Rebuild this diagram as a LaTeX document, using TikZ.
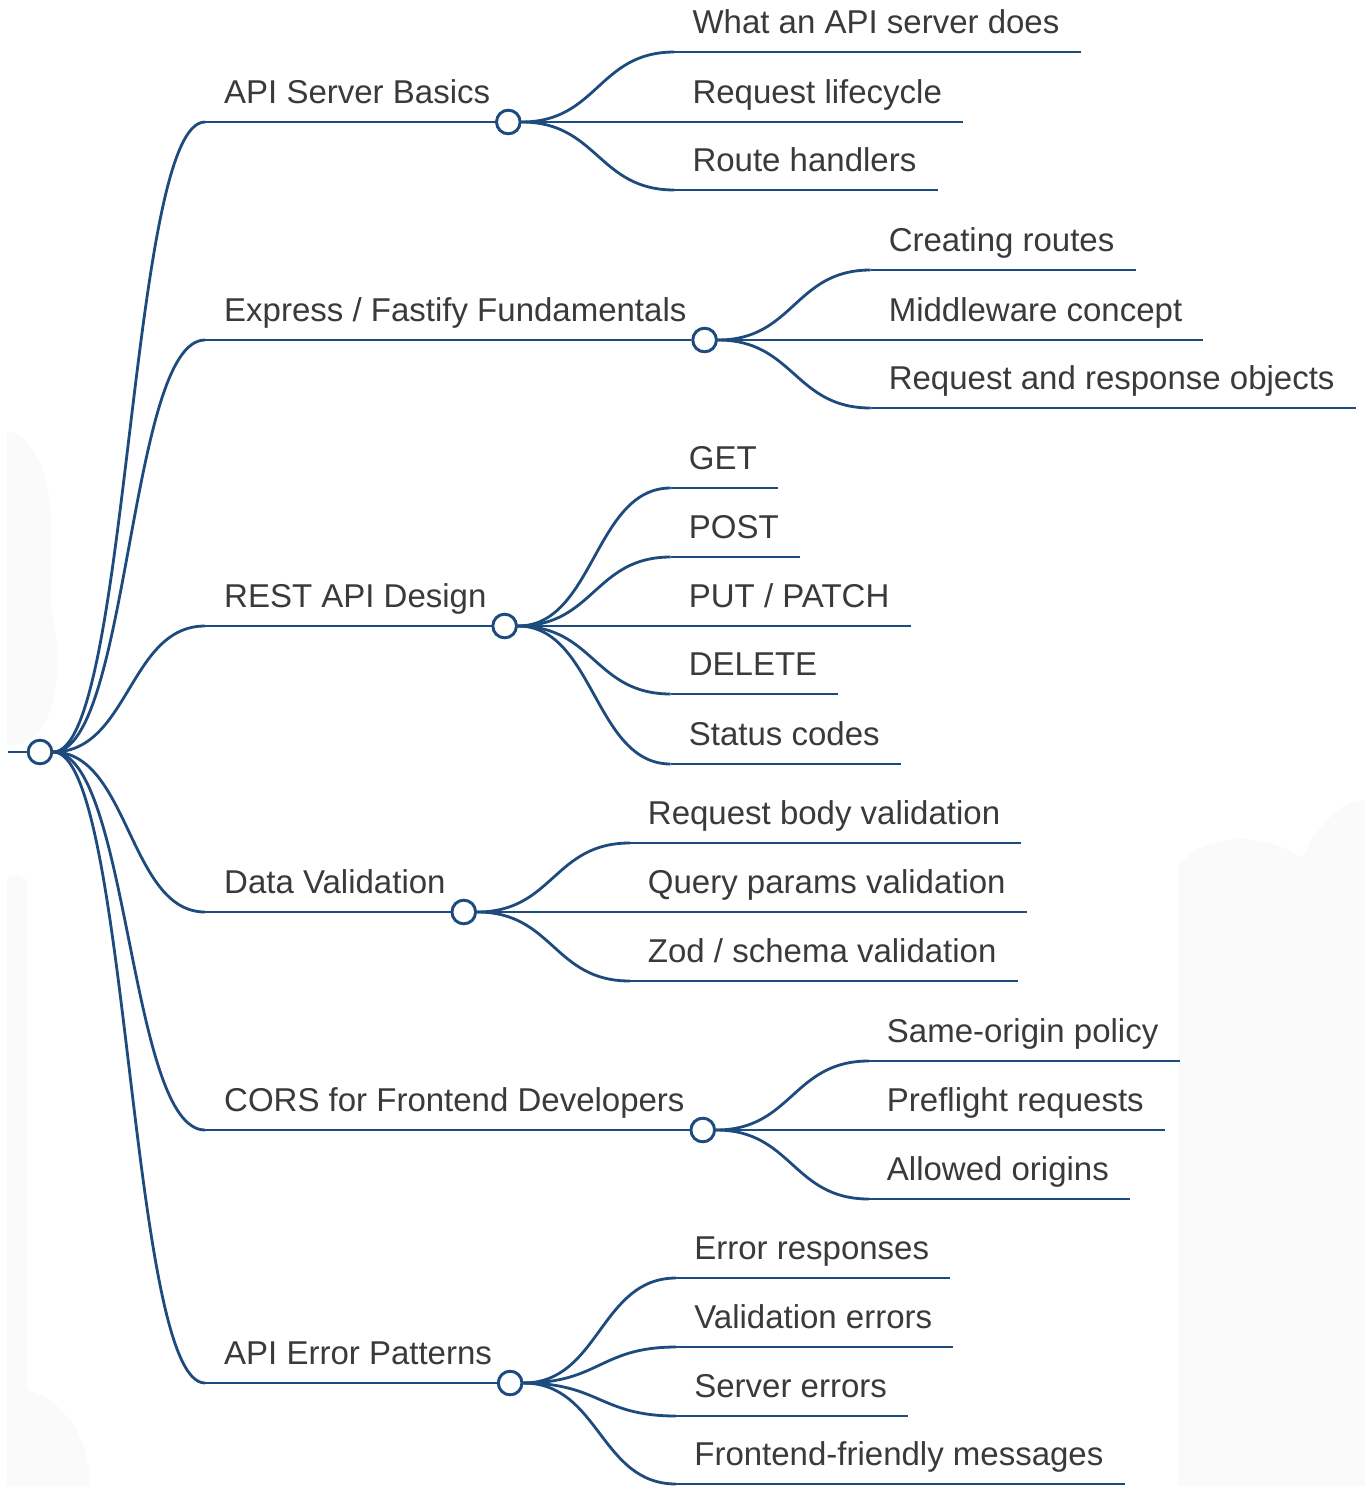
\documentclass[tikz,border=0pt]{standalone}
\usepackage{fontspec}
\setmainfont{Liberation Sans}
\usetikzlibrary{calc}
\definecolor{mmblue}{HTML}{1E4B7D}
\definecolor{mmtext}{HTML}{3A3A3A}
\definecolor{mmbg}{HTML}{FAFAFA}
\tikzset{
  mmline/.style={draw=mmblue, line width=2.8pt},
  mmdot/.style={circle, draw=mmblue, fill=white, line width=2.8pt, minimum size=23.5pt, inner sep=0pt},
  mmtxt/.style={anchor=base west, inner sep=0pt, text=mmtext, font=\fontsize{33}{40}\selectfont},
  mmlink/.style={to path={let \p1=(\tikztostart), \p2=(\tikztotarget) in
      .. controls ({(\x1+\x2)/2},\y1) and ({(\x1+\x2)/2},\y2) .. (\tikztotarget)}},
  bgshape/.style={fill=mmbg, draw=none},
}
\newcommand\mmbranch[3]{%
  \node[mmtxt] (#1t) at (224,{#2-19}) {#3};
  \coordinate (#1s) at (205,#2);
  \node[mmdot] (#1c) at ($(#1t.base east)+(18,19)$) {};
  \draw[mmline] (root.east) to[mmlink] (#1s);
  \draw[mmline] (#1s) -- (#1c.west);
}
\newcommand\mmleaf[4]{%
  \coordinate (#2x) at ($(#1c.center)+(166,0)$);
  \coordinate (#2y) at (0,#3);
  \coordinate (#2s) at (#2x |- #2y);
  \node[mmtxt] (#2t) at ($(#2s)+(18,-19)$) {#4};
  \coordinate (#2e) at ($(#2t.base east)+(21,19)$);
  \draw[mmline] (#1c.east) to[mmlink] (#2s);
  \draw[mmline] (#2s) -- (#2e);
}
\begin{document}
\begin{tikzpicture}[x=1pt,y=-1pt]
\useasboundingbox (0,0) rectangle (1365,1486);
\fill[white] (0,0) rectangle (1365,1486);
% faint background shapes
\fill[bgshape] (7,432) .. controls (30,432) and (50,470) .. (51,520)
  -- (51,610) .. controls (60,640) and (62,700) .. (40,730)
  .. controls (30,742) and (15,746) .. (7,746) -- cycle;
\fill[bgshape] (7,880) .. controls (7,872) and (27,872) .. (27,885) -- (27,1390)
  .. controls (65,1400) and (90,1440) .. (90,1486) -- (7,1486) -- cycle;
\fill[bgshape] (1178,1486) -- (1178,868) .. controls (1195,840) and (1250,825) .. (1302,858)
  .. controls (1320,820) and (1345,800) .. (1365,800) -- (1365,1486) -- cycle;
% root
\node[mmdot] (root) at (40,752) {};
\coordinate (rootl) at (8,752);
\draw[mmline] (rootl) -- (root.west);
% branches and leaves
\mmbranch{b1}{122}{API Server Basics}
\mmleaf{b1}{l11}{52}{What an API server does}
\mmleaf{b1}{l12}{122}{Request lifecycle}
\mmleaf{b1}{l13}{190}{Route handlers}
\mmbranch{b2}{340}{Express / Fastify Fundamentals}
\mmleaf{b2}{l21}{270}{Creating routes}
\mmleaf{b2}{l22}{340}{Middleware concept}
\mmleaf{b2}{l23}{408}{Request and response objects}
\mmbranch{b3}{626}{REST API Design}
\mmleaf{b3}{l31}{488}{GET}
\mmleaf{b3}{l32}{557}{POST}
\mmleaf{b3}{l33}{626}{PUT / PATCH}
\mmleaf{b3}{l34}{694}{DELETE}
\mmleaf{b3}{l35}{764}{Status codes}
\mmbranch{b4}{912}{Data Validation}
\mmleaf{b4}{l41}{843}{Request body validation}
\mmleaf{b4}{l42}{912}{Query params validation}
\mmleaf{b4}{l43}{981}{Zod / schema validation}
\mmbranch{b5}{1130}{CORS for Frontend Developers}
\mmleaf{b5}{l51}{1061}{Same-origin policy}
\mmleaf{b5}{l52}{1130}{Preflight requests}
\mmleaf{b5}{l53}{1199}{Allowed origins}
\mmbranch{b6}{1383}{API Error Patterns}
\mmleaf{b6}{l61}{1278}{Error responses}
\mmleaf{b6}{l62}{1347}{Validation errors}
\mmleaf{b6}{l63}{1416}{Server errors}
\mmleaf{b6}{l64}{1484}{Frontend-friendly messages}
% redraw dots on top
\node[mmdot] at (root) {};
\foreach \b in {b1,b2,b3,b4,b5,b6} \node[mmdot] at (\b c) {};
\end{tikzpicture}
\end{document}
